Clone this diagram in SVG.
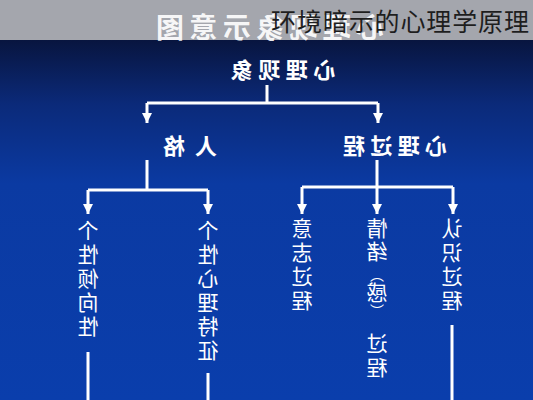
<svg xmlns="http://www.w3.org/2000/svg" width="533" height="400" viewBox="0 0 533 400">
<defs>
<linearGradient id="bg" x1="0" y1="0" x2="0" y2="1">
<stop offset="0" stop-color="#08153f"/>
<stop offset="0.18" stop-color="#0b2a7a"/>
<stop offset="0.4" stop-color="#0b3aa2"/>
<stop offset="1" stop-color="#0a3eac"/>
</linearGradient>
<marker id="ah" viewBox="0 0 10 10" refX="10" refY="5" markerWidth="10" markerHeight="10" markerUnits="userSpaceOnUse" orient="auto">
<path d="M0,0 L10,5 L0,10 z" fill="#ffffff"/>
</marker>
<style>
.ln{stroke:#ffffff;stroke-width:3;fill:none}
.hl{font-family:"Noto Sans CJK SC","Noto Sans CJK JP",sans-serif;font-weight:bold;fill:#ffffff;text-anchor:middle}
.vt{font-family:"Noto Sans CJK SC","Noto Sans CJK JP",sans-serif;font-size:21px;fill:#ffffff;text-anchor:middle}
.pr{font-family:"Noto Sans CJK SC","Noto Sans CJK JP",sans-serif;font-size:14px;fill:#ffffff;text-anchor:middle}
</style>
</defs>
<rect x="0" y="40" width="533" height="360" fill="url(#bg)"/>
<rect x="0" y="0" width="533" height="40" fill="#a4a6ad"/>
<g id="title" transform="translate(270,0) scale(-1,1)">
<text class="hl" x="0" y="38" font-size="28" textLength="228" lengthAdjust="spacing" fill-opacity="0.92">心理现象示意图</text>
</g>
<text x="271" y="31" font-family="'Noto Sans CJK SC','Noto Sans CJK JP',sans-serif" font-size="25" fill="#1e1e1e" textLength="258" lengthAdjust="spacing">环境暗示的心理学原理</text>
<g id="connectors">
<path class="ln" d="M267,85 V103 M147,103 H378 M147,160 V190 M88,190 H208 M377,160 V187 M302,187 H453"/>
<path class="ln" d="M147,103 V123" marker-end="url(#ah)"/>
<path class="ln" d="M378,103 V123" marker-end="url(#ah)"/>
<path class="ln" d="M88,190 V214" marker-end="url(#ah)"/>
<path class="ln" d="M208,190 V214" marker-end="url(#ah)"/>
<path class="ln" d="M302,187 V214" marker-end="url(#ah)"/>
<path class="ln" d="M377,187 V214" marker-end="url(#ah)"/>
<path class="ln" d="M453,187 V214" marker-end="url(#ah)"/>
<path class="ln" d="M88,352 V400 M208,373 V400 M452,325 V400"/>
</g>
<g id="node-xinlixianxiang" transform="translate(283,0) scale(-1,1)">
<text class="hl" x="0" y="78" font-size="22" textLength="105" lengthAdjust="spacing">心理现象</text>
</g>
<g id="node-renge" transform="translate(190,0) scale(-1,1)">
<text class="hl" x="0" y="154" font-size="22" textLength="54" lengthAdjust="spacing">人格</text>
</g>
<g id="node-xinliguocheng" transform="translate(395,0) scale(-1,1)">
<text class="hl" x="0" y="154" font-size="22" textLength="104" lengthAdjust="spacing">心理过程</text>
</g>
<g id="node-gexingqingxiang" transform="translate(88,0) scale(-1,1)">
<text class="vt"><tspan x="0" y="238">个</tspan><tspan x="0" y="262">性</tspan><tspan x="0" y="286">倾</tspan><tspan x="0" y="310">向</tspan><tspan x="0" y="334">性</tspan></text>
</g>
<g id="node-gexingxinli" transform="translate(208,0) scale(-1,1)">
<text class="vt"><tspan x="0" y="238">个</tspan><tspan x="0" y="262">性</tspan><tspan x="0" y="286">心</tspan><tspan x="0" y="310">理</tspan><tspan x="0" y="334">特</tspan><tspan x="0" y="358">征</tspan></text>
</g>
<g id="node-yizhi" transform="translate(302,0) scale(-1,1)">
<text class="vt"><tspan x="0" y="236">意</tspan><tspan x="0" y="260">志</tspan><tspan x="0" y="284">过</tspan><tspan x="0" y="308">程</tspan></text>
</g>
<g id="node-qingxu" transform="translate(377,0) scale(-1,1)">
<text class="vt"><tspan x="0" y="236">情</tspan><tspan x="0" y="259">绪</tspan><tspan x="0" y="300">感</tspan><tspan x="0" y="351">过</tspan><tspan x="0" y="375">程</tspan></text>
<text class="pr"><tspan x="0" y="280">︵</tspan><tspan x="0" y="316">︶</tspan></text>
</g>
<g id="node-renshi" transform="translate(452,0) scale(-1,1)">
<text class="vt"><tspan x="0" y="236">认</tspan><tspan x="0" y="260">识</tspan><tspan x="0" y="284">过</tspan><tspan x="0" y="308">程</tspan></text>
</g>
</svg>
